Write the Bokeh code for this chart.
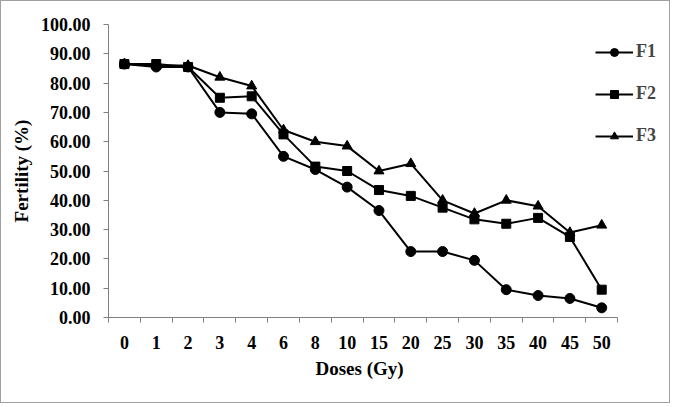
from bokeh.plotting import figure
from bokeh.models import FixedTicker, Range1d, Legend, LegendItem, ColumnDataSource, Title
from bokeh.embed import file_html
from bokeh.resources import INLINE

doses = ["0", "1", "2", "3", "4", "6", "8", "10", "15", "20", "25", "30", "35", "40", "45", "50"]
f1 = [86.5, 85.5, 85.5, 70.0, 69.5, 55.0, 50.5, 44.5, 36.5, 22.5, 22.5, 19.5, 9.5, 7.5, 6.5, 3.3]
f2 = [86.5, 86.5, 85.5, 75.0, 75.5, 62.5, 51.5, 50.0, 43.5, 41.5, 37.5, 33.5, 32.0, 34.0, 27.5, 9.5]
f3 = [86.5, 86.0, 86.0, 82.0, 79.0, 64.0, 60.0, 58.5, 50.0, 52.5, 40.0, 35.5, 40.0, 38.0, 29.0, 31.5]
y_ticks = [0, 10, 20, 30, 40, 50, 60, 70, 80, 90, 100]

n = len(doses)
xs = [i + 0.5 for i in range(n)]
FONT = "Liberation Serif"

p = figure(width=670, height=403, output_backend="svg", toolbar_location=None,
           x_range=Range1d(0, n + 1.63), y_range=Range1d(0, 100))
p.min_border_left = 107
p.min_border_right = 2
p.min_border_top = 23
p.min_border_bottom = 87
p.outline_line_color = None
p.xgrid.visible = False
p.ygrid.visible = False
p.styles = {"border": "1px solid #a0a0a0"}

# x axis: labels at category centres, ticks between categories
xa = p.xaxis[0]
xa.bounds = (0, n)
xa.ticker = FixedTicker(ticks=xs, minor_ticks=list(range(n + 1)))
xa.major_label_overrides = {x: d for x, d in zip(xs, doses)}
xa.major_tick_line_color = None
xa.major_tick_in = 0
xa.major_tick_out = 0
xa.minor_tick_line_color = "#808080"
xa.minor_tick_in = 0
xa.minor_tick_out = 5
xa.axis_line_color = "#808080"
xa.major_label_text_font = FONT
xa.major_label_text_font_style = "bold"
xa.major_label_text_font_size = "18px"
xa.major_label_text_color = "black"
xa.major_label_standoff = 13

xtitle = Title(text="Doses (Gy)", align="left", offset=207, standoff=8,
               text_font=FONT, text_font_style="bold", text_font_size="19px", text_color="black")
p.add_layout(xtitle, "below")

ya = p.yaxis[0]
ya.ticker = FixedTicker(ticks=y_ticks, minor_ticks=[])
ya.major_label_overrides = {t: f"{t:.2f}" for t in y_ticks}
ya.major_tick_line_color = "#808080"
ya.major_tick_in = 0
ya.major_tick_out = 5
ya.axis_line_color = "#808080"
ya.major_label_text_font = FONT
ya.major_label_text_font_style = "bold"
ya.major_label_text_font_size = "18px"
ya.major_label_text_color = "black"
ya.major_label_standoff = 13
ya.axis_label = "Fertility (%)"
ya.axis_label_text_font = FONT
ya.axis_label_text_font_style = "bold"
ya.axis_label_text_font_size = "19px"
ya.axis_label_text_color = "black"
ya.axis_label_standoff = 6

src = ColumnDataSource(dict(x=xs, f1=f1, f2=f2, f3=f3))
items = []
for col, name, marker, size in [("f1", "F1", "circle", 10), ("f2", "F2", "square", 9), ("f3", "F3", "triangle", 10)]:
    l = p.line("x", col, source=src, line_color="black", line_width=2)
    m = p.scatter("x", col, source=src, marker=marker, size=size, fill_color="black", line_color="black")
    items.append(LegendItem(label=name, renderers=[l, m]))

legend = Legend(items=items, location=(487, 171), border_line_color=None, background_fill_alpha=0,
                padding=0, margin=0, spacing=21, glyph_width=38, glyph_height=20,
                label_text_font=FONT, label_text_font_style="bold", label_text_font_size="18px",
                label_standoff=3)
p.add_layout(legend)

open("out.html", "w").write(file_html(p, INLINE))
